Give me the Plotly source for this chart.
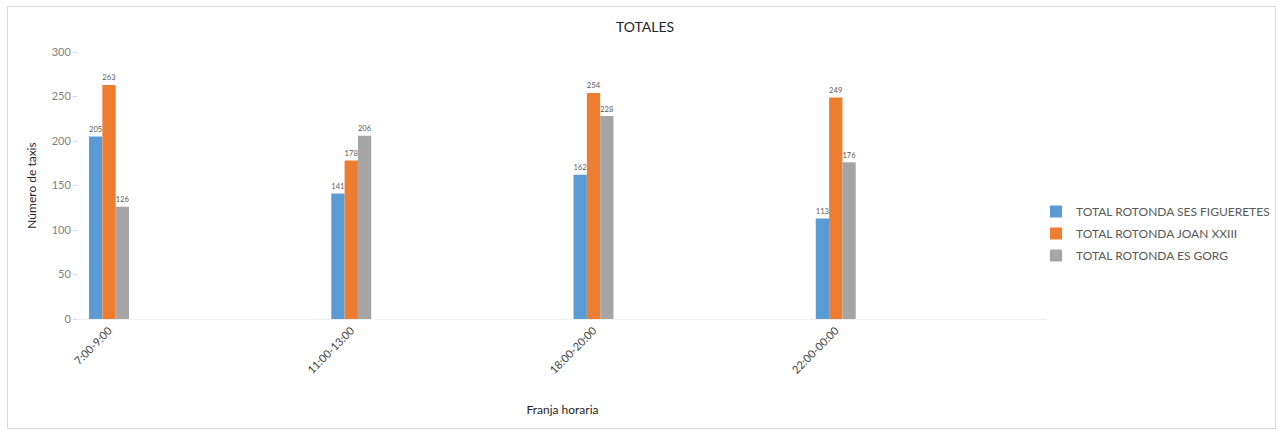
import plotly.graph_objects as go

# Time slots, placed every 5 slots on a 20-slot axis
franjas = ["7:00-9:00", "11:00-13:00", "18:00-20:00", "22:00-00:00"]
posiciones = [0, 5, 10, 15]

ses_figueretes = [205, 141, 162, 113]
joan_xxiii = [263, 178, 254, 249]
es_gorg = [126, 206, 228, 176]

series = [
    ("TOTAL ROTONDA SES FIGUERETES", ses_figueretes, "#5B9BD5", -0.4125),
    ("TOTAL ROTONDA JOAN XXIII", joan_xxiii, "#ED7D31", -0.1375),
    ("TOTAL ROTONDA ES GORG", es_gorg, "#A5A5A5", 0.1375),
]

FONT = "Lato, 'Open Sans', sans-serif"

fig = go.Figure()
for name, vals, color, off in series:
    fig.add_trace(go.Bar(
        name=name,
        legendgroup=name,
        x=posiciones,
        y=vals,
        width=0.275,
        offset=off,
        marker=dict(color=color, line=dict(width=0)),
        text=[str(v) for v in vals],
        textposition="outside",
        textfont=dict(size=10, color="#595959", family=FONT),
        cliponaxis=False,
    ))

W, H = 1278, 430
L, R, T, B = 78, 1278 - 1047, 52, 111
pw = W - L - R
ph = H - T - B

def px_x(p):
    return (p - L) / pw

def px_y(p):
    return (H - B - p) / ph

fig.update_layout(
    width=W, height=H,
    margin=dict(l=L, r=R, t=T, b=B, autoexpand=False),
    paper_bgcolor="white",
    plot_bgcolor="white",
    font=dict(family=FONT, color="#595959"),
    barmode="overlay",
    title=dict(text="TOTALES", x=645 / W, xanchor="center", y=1 - 27 / H, yanchor="middle",
               font=dict(size=14, color="#262626", family=FONT)),
    xaxis=dict(
        range=[-0.64, 19.36],
        tickmode="array",
        tickvals=posiciones,
        ticktext=franjas,
        tickangle=-45,
        tickfont=dict(size=11, color="#404040"),
        showgrid=False,
        zeroline=False,
        showline=True,
        linecolor="#EFEFEF",
        linewidth=1,
        ticks="",
        title=dict(text="Franja horaria", font=dict(size=12, color="#262626"), standoff=30),
    ),
    yaxis=dict(
        range=[0, 300],
        tickvals=[0, 50, 100, 150, 200, 250, 300],
        tickfont=dict(size=11, color="#7F7F7F"),
        showgrid=False,
        zeroline=False,
        showline=False,
        ticks="outside",
        ticklen=4,
        tickcolor="#D9D9D9",
        title=dict(text="Número de taxis", font=dict(size=12, color="#262626"), standoff=12),
    ),
    legend=dict(
        x=px_x(1036), y=px_y(197), xanchor="left", yanchor="top",
        font=dict(size=12, color="#595959"),
        traceorder="grouped",
        tracegroupgap=3,
        bgcolor="rgba(0,0,0,0)",
    ),
    showlegend=True,
    shapes=[dict(
        type="rect", xref="paper", yref="paper",
        x0=px_x(7.5), x1=px_x(1275.5), y0=px_y(428.5), y1=px_y(6.5),
        line=dict(color="#D9D9D9", width=1), fillcolor="rgba(0,0,0,0)", layer="below",
    )],
)

fig.write_html("out.html")
